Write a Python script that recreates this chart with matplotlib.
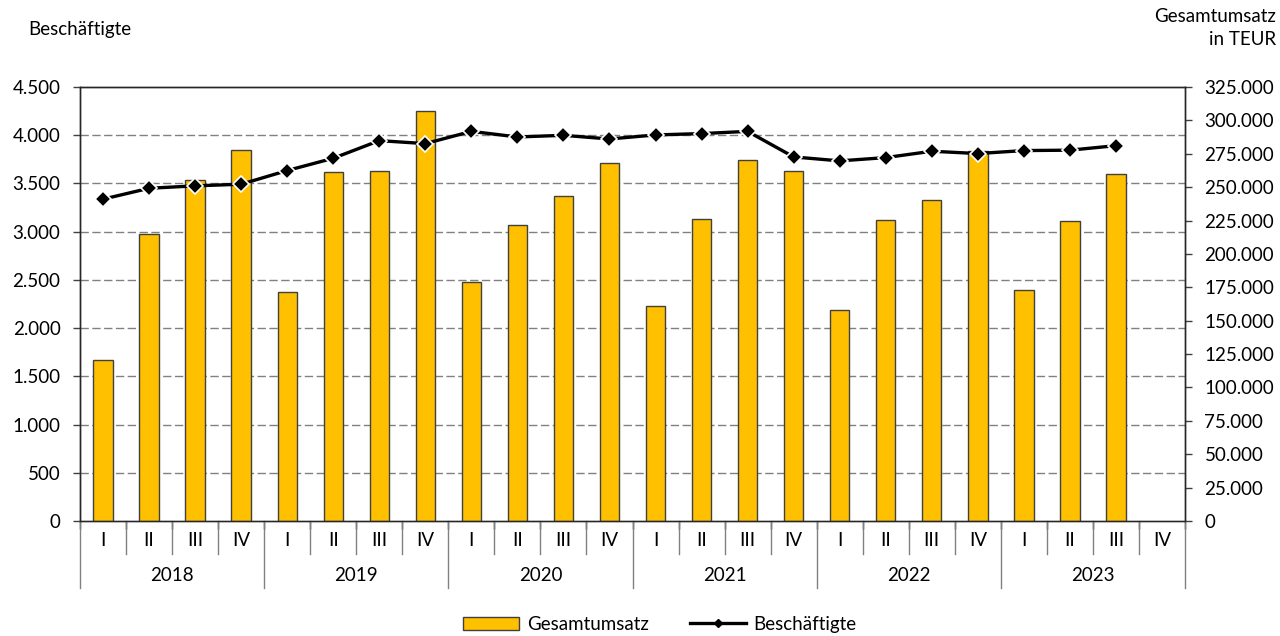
import numpy as np
import matplotlib
matplotlib.use("Agg")
import matplotlib.pyplot as plt
from matplotlib.patches import Patch
from matplotlib.lines import Line2D

plt.rcParams['font.family'] = ['Lato', 'DejaVu Sans']

# Daten (Quartale 2018 I bis 2023 III)
jahre = ['2018', '2019', '2020', '2021', '2022', '2023']
quartale = ['I', 'II', 'III', 'IV']
umsatz = [120400, 215100, 255700, 277900,
          171400, 261400, 262200, 307300,
          178900, 221300, 243700, 268200,
          160700, 225800, 270700, 261900,
          158000, 225300, 240700, 277100,
          173200, 224500, 259900]
beschaeftigte = [3337, 3450, 3475, 3492,
                 3634, 3761, 3944, 3913,
                 4040, 3982, 3999, 3961,
                 4003, 4017, 4040, 3775,
                 3734, 3768, 3834, 3810,
                 3841, 3845, 3892]

n_slots = len(jahre) * len(quartale)
x = np.arange(len(umsatz)) + 0.5
fs = 13.5

def tsd(v, pos=None):
    return f"{v:,.0f}".replace(',', '.')

fig = plt.figure(figsize=(12.8, 6.36), dpi=100)
ax = fig.add_axes([0.0625, 0.1808, 0.8633, 0.6824])   # linke Achse: Beschäftigte
ax2 = ax.twinx()                                        # rechte Achse: Umsatz

# Balken liegen unten, Linie oben
ax.set_zorder(ax2.get_zorder() + 1)
ax.patch.set_visible(False)

ax2.bar(x, umsatz, width=0.42, color='#FFC000', edgecolor='#404040',
        linewidth=1.0, zorder=3)
ax2.set_ylim(0, 325000)
ax2.set_yticks(np.arange(0, 325001, 25000))
ax2.yaxis.set_major_formatter(plt.FuncFormatter(tsd))

ax.plot(x, beschaeftigte, color='black', linewidth=2.4, marker='D',
        markersize=8, markerfacecolor='black', markeredgecolor='white',
        markeredgewidth=1.2, zorder=4)
ax.set_ylim(0, 4500)
ax.set_yticks(np.arange(0, 4501, 500))
ax.yaxis.set_major_formatter(plt.FuncFormatter(tsd))
ax.set_xlim(0, n_slots)

# Gitterlinien der linken Skala hinter den Balken
for v in np.arange(500, 4001, 500):
    ax2.plot([0, 1], [v, v], transform=ax.get_yaxis_transform(),
             color='#808080', linewidth=1.0, linestyle=(0, (6, 2.5)), zorder=1)

for a in (ax, ax2):
    a.tick_params(axis='y', direction='out', length=5, width=1,
                  labelsize=fs, pad=9, color='#404040')
    for s in a.spines.values():
        s.set_color('#262626')
        s.set_linewidth(1.0)
ax2.spines['bottom'].set_color('#595959')

# Kategorienachse: Quartale und Jahre
ax.set_xticks(np.arange(0, n_slots + 1))
ax.tick_params(axis='x', direction='out', length=6, width=1,
               labelbottom=False, color='#262626')
ax2.tick_params(axis='x', length=0)
xtr = ax.get_xaxis_transform()
for i in range(n_slots + 1):
    tief = -0.154 if i % 4 == 0 else -0.076
    ax.plot([i, i], [0, tief], transform=xtr, color='#808080',
            linewidth=1.0, clip_on=False)
for i in range(n_slots):
    ax.text(i + 0.5, -0.046, quartale[i % 4], transform=xtr,
            ha='center', va='center', fontsize=fs)
for j, jahr in enumerate(jahre):
    ax.text(j * 4 + 2, -0.126, jahr, transform=xtr,
            ha='center', va='center', fontsize=fs)

fig.text(28 / 1280, 1 - 29 / 636, 'Beschäftigte', ha='left', va='center',
         fontsize=fs)
fig.text(1276 / 1280, 1 - 8 / 636, 'Gesamtumsatz\nin TEUR', ha='right',
         va='top', multialignment='right', fontsize=fs, linespacing=1.4)

handles = [Patch(facecolor='#FFC000', edgecolor='#404040', linewidth=1.0),
           Line2D([], [], color='black', linewidth=2.4, marker='D',
                  markersize=4, markerfacecolor='black',
                  markeredgecolor='black')]
fig.legend(handles, ['Gesamtumsatz', 'Beschäftigte'], loc='center',
           bbox_to_anchor=(0.5155, 0.018), ncol=2, frameon=False, fontsize=fs,
           handlelength=3.0, handleheight=0.7, handletextpad=0.4,
           columnspacing=2.2)

fig.savefig('out.png', dpi=100)
